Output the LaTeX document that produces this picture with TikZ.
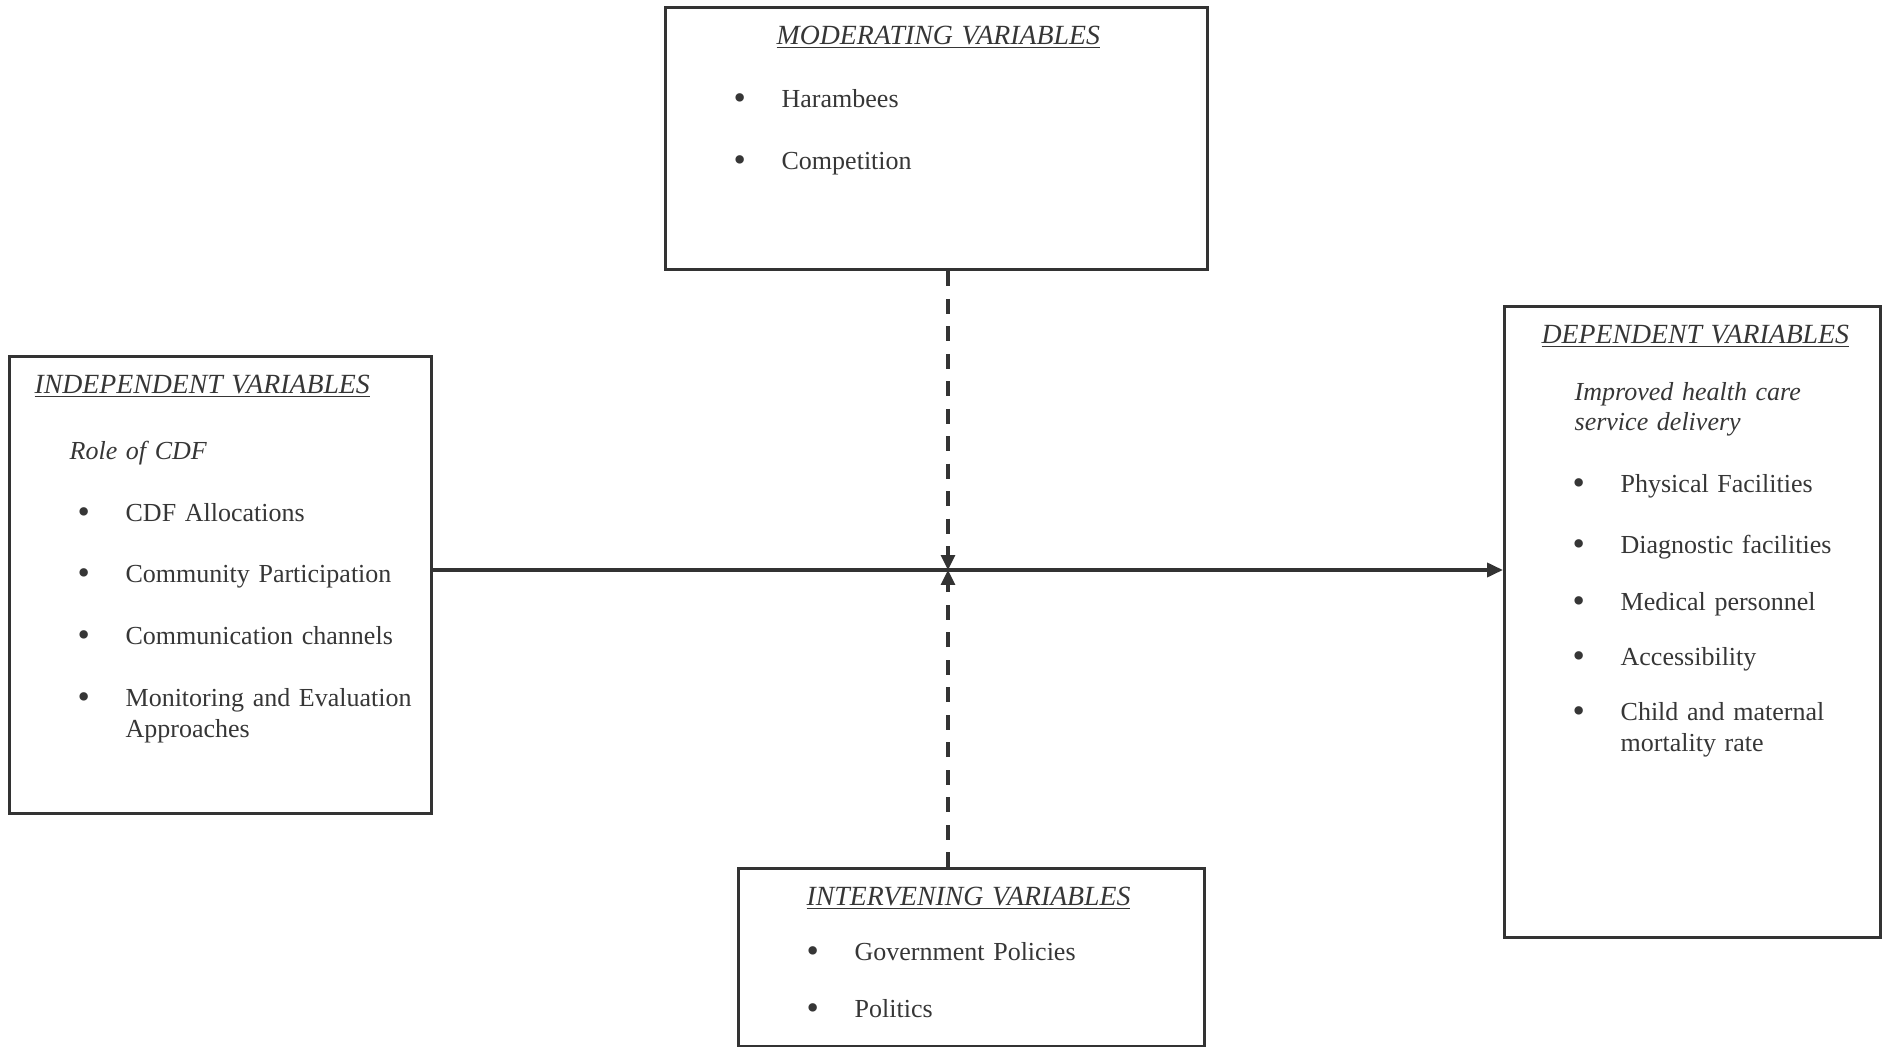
\documentclass[tikz,border=0pt]{standalone}
\usepackage{fontspec}
\setmainfont{Liberation Serif}
\usetikzlibrary{arrows.meta,positioning}
\definecolor{Ink}{HTML}{363636}
\definecolor{Lead}{HTML}{333333}
\newcommand{\vartitle}[1]{\underline{\fontsize{15.8}{18}\selectfont\itshape #1}}
\newcommand{\bul}{\hspace*{1.36cm}\makebox[0.96cm][l]{\raisebox{-1.5pt}{\fontsize{20}{18}\selectfont\textbullet}}}
\newcommand{\wrapind}{\hspace*{2.32cm}}

\begin{document}
\begin{tikzpicture}[x=0.02cm,y=-0.02cm,
  box/.style={draw=Lead,line width=1.9pt,anchor=north west,inner sep=0pt,align=left,
    text=Ink,text height=0.73cm,font=\fontsize{14.8}{18}\selectfont},
  arrow/.style={-{Triangle[length=3.2mm,width=2.8mm]},line width=2.1pt,draw=Lead},
  dasharrow/.style={-{Triangle[length=3mm,width=2.8mm]},line width=1.8pt,draw=Lead,
    dash pattern=on 3mm off 2.5mm}]
\useasboundingbox (0,0) rectangle (1883,1047);
\node[box,text width=10.84cm,text depth=4.51cm](moderating) at (664,6){\hspace*{2.22cm}\vartitle{MODERATING VARIABLES}\\[17.8pt]
  \bul Harambees\\[17.3pt]\bul Competition};
\node[box,text width=8.44cm,text depth=8.41cm](independent) at (8,355){\hspace*{0.5cm}\vartitle{INDEPENDENT VARIABLES}\\[19.6pt]
  \hspace*{1.2cm}\textit{Role of CDF}\\[17.3pt]\bul CDF Allocations\\[16.7pt]\bul Community Participation\\[17.3pt]
  \bul Communication channels\\[17.3pt]\bul Monitoring and Evaluation\\\wrapind Approaches};
\node[box,text width=7.52cm,text depth=11.89cm](dependent) at (1503,305){\hspace*{0.74cm}\vartitle{DEPENDENT VARIABLES}\\[14.4pt]
  \hspace*{1.4cm}\textit{Improved health care}\\[-0.9pt]\hspace*{1.4cm}\textit{service delivery}\\[17.3pt]
  \bul Physical Facilities\\[16.7pt]\bul Diagnostic facilities\\[14.4pt]\bul Medical personnel\\[13.3pt]
  \bul Accessibility\\[13.3pt]\bul Child and maternal\\\wrapind mortality rate};
\node[box,text width=9.32cm,text depth=2.83cm](intervening) at (737,867){\hspace*{1.36cm}\vartitle{INTERVENING VARIABLES}\\[13.3pt]
  \bul Government Policies\\[14.4pt]\bul Politics};
\coordinate(hub) at (948,570);
\draw[arrow](independent.east |- hub)--(dependent.west |- hub);
\draw[dasharrow](moderating.south -| hub)--(hub);\draw[dasharrow](intervening.north -| hub)--(hub);
\end{tikzpicture}
\end{document}
